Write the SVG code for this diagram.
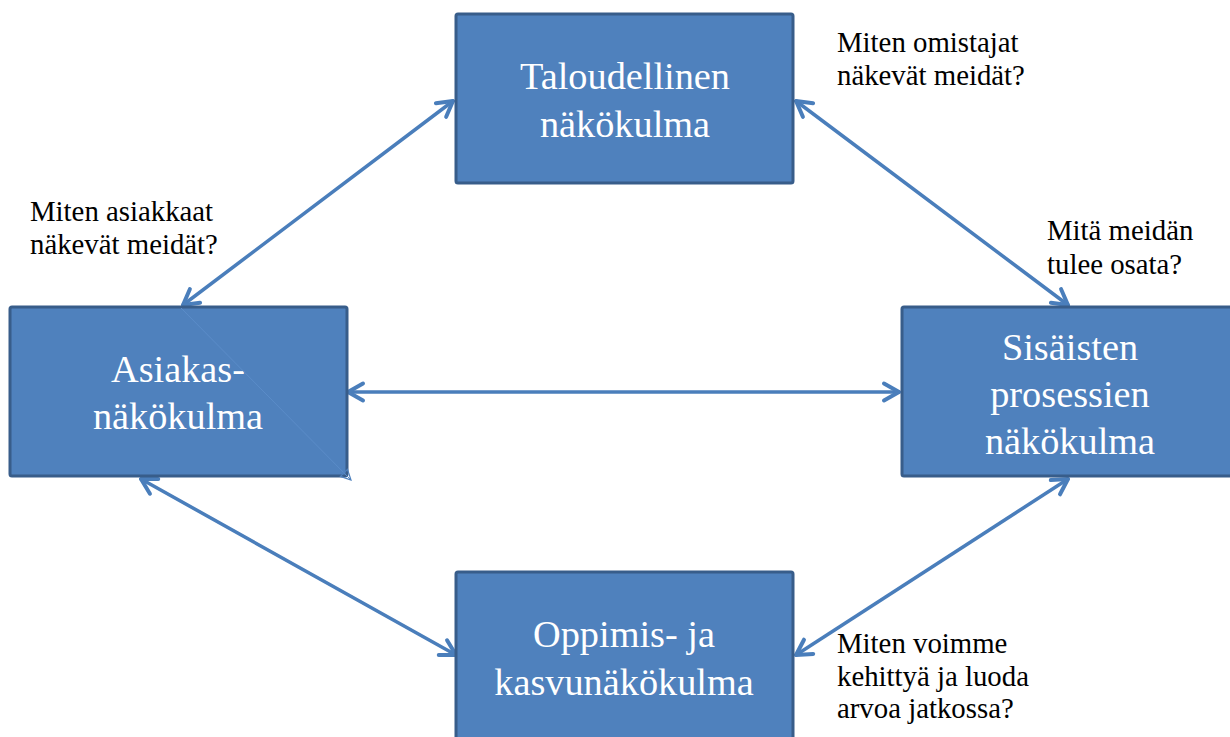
<svg xmlns="http://www.w3.org/2000/svg" width="1230" height="737" viewBox="0 0 1230 737">
  <style>
    .box { fill: #4F81BD; stroke: #385D8A; stroke-width: 3; }
    .boxtext { font-family: "Liberation Serif", "Times New Roman", serif; font-size: 38.3px; fill: #FFFFFF; text-anchor: middle; }
    .label { font-family: "Liberation Serif", "Times New Roman", serif; font-size: 28.8px; fill: #000000; }
    .conn { stroke: #4A7EBB; stroke-width: 3.5; fill: none; stroke-linecap: round; marker-start: url(#arr); marker-end: url(#arr); }
  </style>
  <defs>
    <marker id="arr" markerUnits="userSpaceOnUse" viewBox="-22 -14 26 28" refX="0" refY="0" markerWidth="26" markerHeight="28" orient="auto-start-reverse" overflow="visible">
      <path d="M -15 -8.5 L 0 0 L -15 8.5" fill="none" stroke="#4A7EBB" stroke-width="4" stroke-linecap="round" stroke-linejoin="round"/>
    </marker>
    <marker id="thin" markerUnits="userSpaceOnUse" viewBox="-14 -8 16 16" refX="0" refY="0" markerWidth="16" markerHeight="16" orient="auto" overflow="visible">
      <path d="M -10 -5 L 0 0 L -10 5 Z" fill="none" stroke="#4F81BD" stroke-width="1.2"/>
    </marker>
  </defs>
  <rect width="1230" height="737" fill="#FFFFFF"/>

  <g id="connectors">
    <line class="conn" x1="183" y1="305" x2="453" y2="101"/>
    <line class="conn" x1="796" y1="101" x2="1068" y2="305"/>
    <line class="conn" x1="348" y1="392" x2="899" y2="392"/>
    <line class="conn" x1="141" y1="479" x2="456" y2="655"/>
    <line class="conn" x1="796" y1="655" x2="1068" y2="479"/>
  </g>

  <g id="node-taloudellinen">
    <rect class="box" x="456" y="14" width="337" height="169" rx="2"/>
    <text class="boxtext" x="625" y="89">Taloudellinen</text>
    <text class="boxtext" x="625" y="137">näkökulma</text>
  </g>

  <g id="node-asiakas">
    <rect class="box" x="10" y="307" width="337" height="169" rx="2"/>
    <text class="boxtext" x="178" y="382">Asiakas-</text>
    <text class="boxtext" x="178" y="429">näkökulma</text>
  </g>

  <g id="node-sisaiset">
    <rect class="box" x="902" y="307" width="340" height="169" rx="2"/>
    <text class="boxtext" x="1070" y="360">Sisäisten</text>
    <text class="boxtext" x="1070" y="407">prosessien</text>
    <text class="boxtext" x="1070" y="454">näkökulma</text>
  </g>

  <g id="node-oppimis">
    <rect class="box" x="456" y="572" width="337" height="180" rx="2"/>
    <text class="boxtext" x="624" y="647">Oppimis- ja</text>
    <text class="boxtext" x="624" y="695">kasvunäkökulma</text>
  </g>

  <g id="artifact">
    <line x1="181" y1="308" x2="351" y2="480" stroke="#5B8CC8" stroke-width="1" marker-end="url(#thin)"/>
  </g>

  <g id="labels">
    <text class="label" x="30" y="221">Miten asiakkaat</text>
    <text class="label" x="30" y="254">näkevät meidät?</text>
    <text class="label" x="837" y="52">Miten omistajat</text>
    <text class="label" x="837" y="85">näkevät meidät?</text>
    <text class="label" x="1047" y="240">Mitä meidän</text>
    <text class="label" x="1047" y="274">tulee osata?</text>
    <text class="label" x="837" y="653">Miten voimme</text>
    <text class="label" x="837" y="686">kehittyä ja luoda</text>
    <text class="label" x="837" y="718">arvoa jatkossa?</text>
  </g>
</svg>
